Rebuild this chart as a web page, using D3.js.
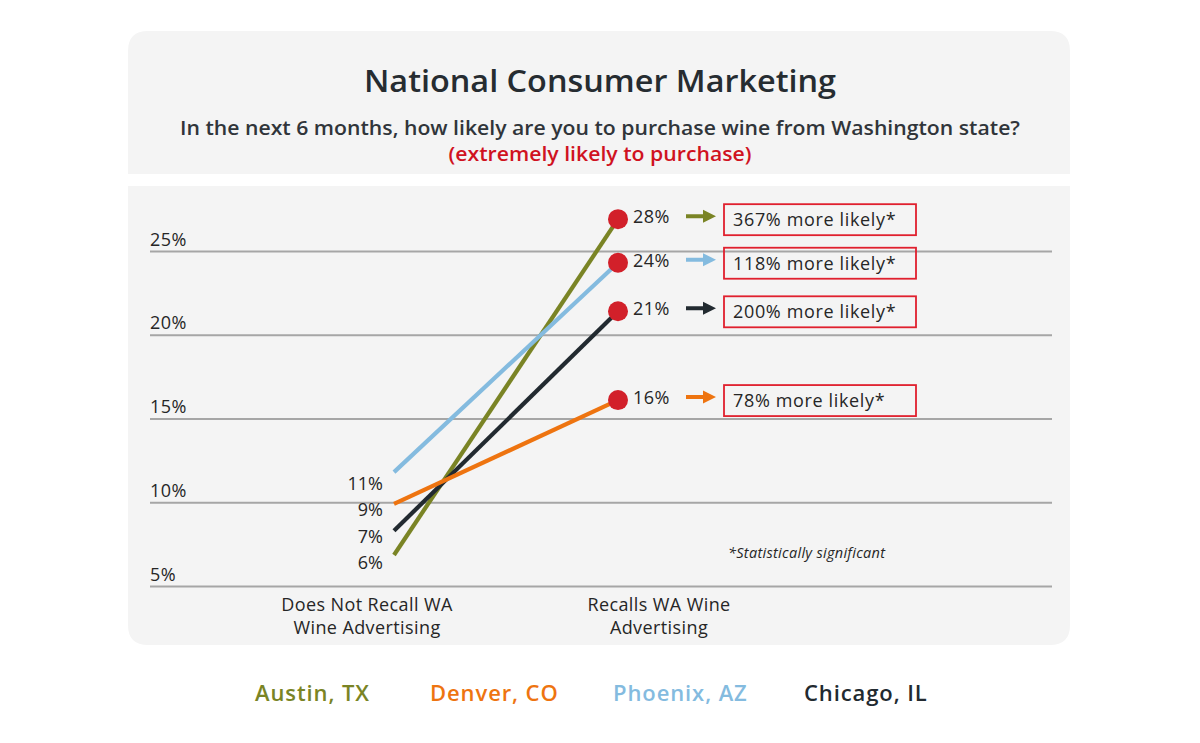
<!DOCTYPE html>
<html>
<head>
<meta charset="utf-8">
<script src="https://cdn.jsdelivr.net/npm/d3@7/dist/d3.min.js"></script>
<style>
  html, body { margin: 0; padding: 0; background: #ffffff; }
  svg { display: block; }
  text { font-family: "Open Sans", "DejaVu Sans", sans-serif; }
</style>
</head>
<body>
<svg id="chart" width="1200" height="743"></svg>
<script>
// ---------- data ----------
const categories = ["Does Not Recall WA Wine Advertising", "Recalls WA Wine Advertising"];
const categoryLines = [["Does Not Recall WA", "Wine Advertising"], ["Recalls WA Wine", "Advertising"]];
const cities = ["Austin, TX", "Denver, CO", "Phoenix, AZ", "Chicago, IL"];
const cityColors = ["#7a8425", "#ee7410", "#84bbdf", "#222a30"];
// plotted positions (as drawn in the picture)
const notRecallValues = [6.85, 9.9, 11.8, 8.3];
const recallValues = [26.9, 16.1, 24.3, 21.4];
// printed labels
const notRecallLabels = ["11%", "9%", "7%", "6%"];
const recallLabels = ["28%", "16%", "24%", "21%"];
const liftLabels = ["367% more likely*", "78% more likely*", "118% more likely*", "200% more likely*"];
const yTicks = [5, 10, 15, 20, 25];
const tickLabels = ["5%", "10%", "15%", "20%", "25%"];
const drawOrder = [0, 3, 2, 1];

// ---------- layout ----------
const svg = d3.select("#chart");
const panelFill = "#f4f4f4";
const textFill = "#262626";
const L = 128, R = 1070, r = 20;

// header panel (rounded top)
svg.append("path")
  .attr("d", `M${L},174 L${L},${31 + r} Q${L},31 ${L + r},31 L${R - r},31 Q${R},31 ${R},${31 + r} L${R},174 Z`)
  .attr("fill", panelFill);
// chart panel (rounded bottom)
svg.append("path")
  .attr("d", `M${L},186 L${R},186 L${R},${645 - r} Q${R},645 ${R - r},645 L${L + r},645 Q${L},645 ${L},${645 - r} Z`)
  .attr("fill", panelFill);

// titles
svg.append("text").attr("x", 600).attr("y", 92).attr("text-anchor", "middle")
  .attr("font-size", 30).attr("font-weight", 600).attr("fill", "#262c31")
  .attr("textLength", 472).attr("lengthAdjust", "spacingAndGlyphs")
  .text("National Consumer Marketing");
svg.append("text").attr("x", 600).attr("y", 135).attr("text-anchor", "middle")
  .attr("font-size", 20).attr("font-weight", 600).attr("fill", "#30353a")
  .attr("textLength", 840).attr("lengthAdjust", "spacingAndGlyphs")
  .text("In the next 6 months, how likely are you to purchase wine from Washington state?");
svg.append("text").attr("x", 600).attr("y", 161).attr("text-anchor", "middle")
  .attr("font-size", 20).attr("font-weight", 600).attr("fill", "#d0121f")
  .attr("textLength", 303).attr("lengthAdjust", "spacingAndGlyphs")
  .text("(extremely likely to purchase)");

// scales
const y = d3.scaleLinear().domain([5, 25]).range([586, 251]);
const x = d3.scalePoint().domain(categories).range([394, 618]);

// gridlines + tick labels via axis
const grid = svg.append("g").attr("transform", "translate(150,0)")
  .call(d3.axisRight(y).tickValues(yTicks).tickSize(902).tickFormat((d, i) => tickLabels[i]));
grid.select(".domain").remove();
grid.selectAll(".tick line").attr("stroke", "#a6a6a6").attr("stroke-width", 2.2);
grid.selectAll(".tick text")
  .attr("x", 0).attr("dy", 0).attr("y", -6)
  .attr("text-anchor", "start")
  .attr("font-size", 18).attr("font-weight", 400).attr("fill", "#262626")
  .attr("letter-spacing", 0.5)
  .attr("font-family", "'Open Sans', sans-serif");

// category labels
const catOffsets = [-27, 41];
categories.forEach((c, i) => {
  const t = svg.append("text").attr("text-anchor", "middle")
    .attr("font-size", 18).attr("font-weight", 400).attr("fill", textFill)
    .attr("letter-spacing", 0.4);
  categoryLines[i].forEach((ln, j) => {
    t.append("tspan").attr("x", x(c) + catOffsets[i]).attr("y", 611 + j * 23).text(ln);
  });
});

// lines
const series = cities.map((c, i) => ({ city: c, color: cityColors[i], v0: notRecallValues[i], v1: recallValues[i], i }));
const lineGen = d3.line().x(d => x(d[0])).y(d => y(d[1]));
svg.append("g").selectAll("path")
  .data(drawOrder.map(i => series[i]))
  .join("path")
  .attr("d", d => lineGen([[categories[0], d.v0], [categories[1], d.v1]]))
  .attr("stroke", d => d.color).attr("stroke-width", 4.2).attr("fill", "none");

// dots
svg.append("g").selectAll("circle").data(series).join("circle")
  .attr("cx", x(categories[1])).attr("cy", d => y(d.v1)).attr("r", 10)
  .attr("fill", "#d2202a");

// right value labels
svg.append("g").selectAll("text").data(series).join("text")
  .attr("x", x(categories[1]) + 15).attr("y", d => y(d.v1) + 4)
  .attr("font-size", 18).attr("font-weight", 400).attr("fill", textFill)
  .attr("letter-spacing", 0.5)
  .text(d => recallLabels[d.i]);

// left value labels (stacked)
svg.append("g").selectAll("text").data(notRecallLabels).join("text")
  .attr("x", 383).attr("y", (d, i) => 490 + i * 26.3)
  .attr("text-anchor", "end")
  .attr("font-size", 18).attr("font-weight", 400).attr("fill", textFill)
  .text(d => d);

// arrows
const arrowPath = "M686,-2 L703,-2 L703,-6.5 L716,0 L703,6.5 L703,2 L686,2 Z";
svg.append("g").selectAll("path").data(series).join("path")
  .attr("d", arrowPath)
  .attr("transform", d => `translate(0,${y(d.v1) - 3})`)
  .attr("fill", d => d.color);

// lift boxes
const boxes = svg.append("g").selectAll("g").data(series).join("g")
  .attr("transform", d => `translate(724,${y(d.v1) - 15})`);
boxes.append("rect").attr("width", 192).attr("height", 31)
  .attr("fill", "none").attr("stroke", "#e0202e").attr("stroke-width", 1.8);
boxes.append("text").attr("x", 9).attr("y", 22)
  .attr("font-size", 18).attr("font-weight", 400).attr("fill", textFill)
  .attr("letter-spacing", 0.65)
  .text(d => liftLabels[d.i]);

// footnote
svg.append("text").attr("x", 728).attr("y", 558)
  .attr("font-size", 14.5).attr("font-style", "italic").attr("fill", textFill)
  .attr("letter-spacing", 0.3)
  .text("*Statistically significant");

// legend
const legendX = [255, 430, 613, 804];
svg.append("g").selectAll("text").data(series).join("text")
  .attr("x", (d, i) => legendX[i]).attr("y", 701)
  .attr("font-size", 22).attr("font-weight", 600).attr("fill", d => d.color)
  .attr("letter-spacing", 0.9)
  .text(d => d.city);
</script>
</body>
</html>
